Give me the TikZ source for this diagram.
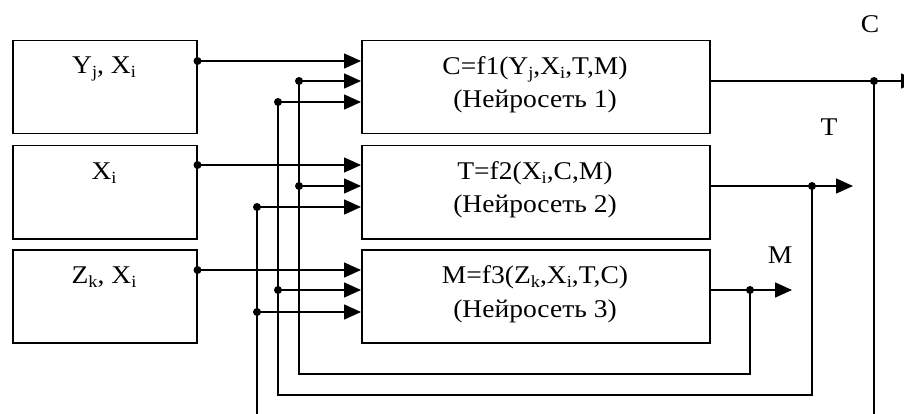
\documentclass[tikz,border=0pt]{standalone}
\usepackage{fontspec}
\setmainfont{Liberation Serif}[FakeStretch=1.08]
\usetikzlibrary{arrows.meta}
\newcommand\mysub[1]{\raisebox{-4pt}{\fontsize{17}{17}\selectfont #1}}
\begin{document}
\begin{tikzpicture}[x=1pt,y=-1pt,
  box/.style={draw, line width=1.5pt, anchor=north west, inner sep=0pt, minimum height=93pt},
  lbox/.style={box, minimum width=184pt},
  rbox/.style={box, minimum width=348pt},
  txt/.style={anchor=base, inner sep=0pt, font=\fontsize{25.5}{30}\selectfont},
  wire/.style={line width=1.5pt},
  arr/.style={wire, -{Triangle[length=17pt,width=15pt]}},
  dot/.style={fill=black, circle, inner sep=0pt, minimum size=8pt}
]
\useasboundingbox (0,0) rectangle (904,414);
\clip (0,0) rectangle (904,414);
\fill[white] (0,0) rectangle (904,414);

% left boxes
\node[lbox] (L1) at (12,40) {};
\node[lbox] (L2) at (12,145) {};
\node[lbox] (L3) at (12,249) {};
\node[txt] (lt1) at (104,74) {Y\mysub{j}, X\mysub{i}};
\node[txt] (lt2) at (104,179) {X\mysub{i}};
\node[txt] (lt3) at (104,283) {Z\mysub{k}, X\mysub{i}};

% right boxes
\node[rbox] (R1) at (361,40) {};
\node[rbox] (R2) at (361,145) {};
\node[rbox] (R3) at (361,249) {};
\node[txt] (rt1a) at (535,75) {C=f1(Y\mysub{j},X\mysub{i},T,M)};
\node[txt] (rt1b) at (535,108) {(Нейросеть 1)};
\node[txt] (rt2a) at (535,179) {T=f2(X\mysub{i},C,M)};
\node[txt] (rt2b) at (535,212) {(Нейросеть 2)};
\node[txt] (rt3a) at (535,283) {M=f3(Z\mysub{k},X\mysub{i},T,C)};
\node[txt] (rt3b) at (535,317) {(Нейросеть 3)};

% output labels
\node[txt] (lc) at (870,33) {C};
\node[txt] (lT) at (829,136) {T};
\node[txt] (lM) at (780,263) {M};

% junction coordinates
\coordinate (o1) at (L1.east |- 0,61);
\coordinate (o2) at (L2.east |- 0,165);
\coordinate (o3) at (L3.east |- 0,270);
\coordinate (m1) at (299,81);
\coordinate (m2) at (299,186);
\coordinate (t1) at (278,102);
\coordinate (t3) at (278,290);
\coordinate (c2) at (257,207);
\coordinate (c3) at (257,312);
\coordinate (cC) at (874,81);
\coordinate (tT) at (812,186);
\coordinate (mM) at (750,290);
\coordinate (cEnd) at (918,81);
\coordinate (tEnd) at (853,186);
\coordinate (mEnd) at (792,290);
\coordinate (cBot) at (874,430);
\coordinate (cBotL) at (257,430);

% inputs
\draw[arr] (o1) -- (R1.west |- o1);
\draw[arr] (m1) -- (R1.west |- m1);
\draw[arr] (t1) -- (R1.west |- t1);
\draw[arr] (o2) -- (R2.west |- o2);
\draw[arr] (m2) -- (R2.west |- m2);
\draw[arr] (c2) -- (R2.west |- c2);
\draw[arr] (o3) -- (R3.west |- o3);
\draw[arr] (t3) -- (R3.west |- t3);
\draw[arr] (c3) -- (R3.west |- c3);

% outputs
\draw[wire] (R1.east |- cC) -- (cC);
\draw[arr] (cC) -- (cEnd);
\draw[wire] (R2.east |- tT) -- (tT);
\draw[arr] (tT) -- (tEnd);
\draw[wire] (R3.east |- mM) -- (mM);
\draw[arr] (mM) -- (mEnd);

% feedback
\draw[wire] (mM) |- (299,374) -- (m1);
\draw[wire] (tT) |- (278,395) -- (t1);
\draw[wire] (cC) -- (cBot);
\draw[wire] (cBotL) -- (c2);

% dots
\foreach \p in {o1,o2,o3,m1,m2,t1,t3,c2,c3,cC,tT,mM}
  \node[dot] at (\p) {};
\end{tikzpicture}
\end{document}
